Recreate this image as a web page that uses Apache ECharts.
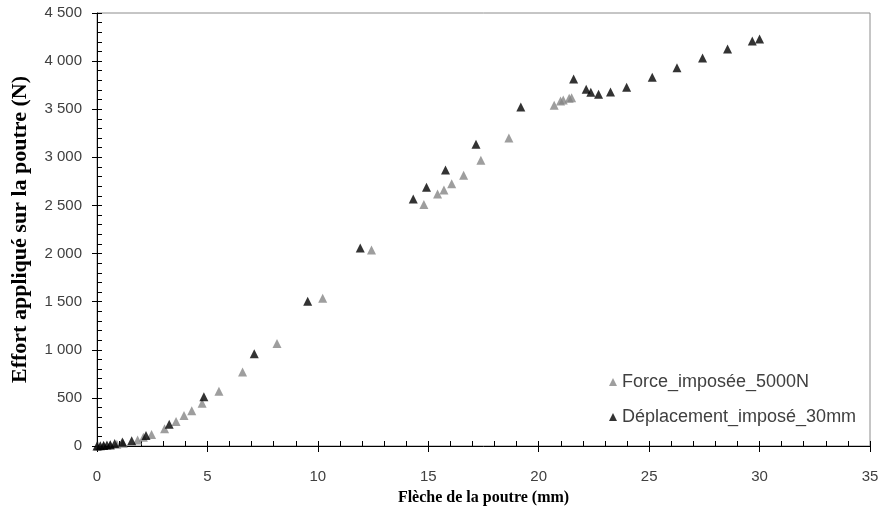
<!DOCTYPE html>
<html>
<head>
<meta charset="utf-8">
<script src="https://cdn.jsdelivr.net/npm/echarts@6/dist/echarts.min.js"></script>
<style>
  html, body { margin: 0; padding: 0; background: #fff; }
  #myChart { width: 882px; height: 513px; }
</style>
</head>
<body>
<div id="myChart"></div>
<script>
// données : [flèche (mm), effort (N)]
const forceImposee = [
  [0.05, 0], [0.3, 4], [0.6, 10], [0.9, 18], [1.19, 28], [1.84, 62],
  [2.10, 90], [2.47, 120], [3.06, 180], [3.58, 255], [3.94, 318],
  [4.29, 367], [4.76, 444], [5.52, 570], [6.59, 770], [8.15, 1065],
  [10.22, 1535], [12.43, 2037], [14.80, 2510], [15.42, 2620],
  [15.71, 2660], [16.06, 2725], [16.6, 2815], [17.38, 2970],
  [18.65, 3200], [20.70, 3540], [20.99, 3585], [21.11, 3597],
  [21.38, 3615], [21.49, 3620]
];
const deplacementImpose = [
  [0, 0], [0.15, 3], [0.3, 6], [0.45, 10], [0.6, 14], [0.8, 25],
  [1.15, 42], [1.57, 55], [2.22, 108], [3.27, 225], [4.84, 512],
  [7.12, 960], [9.54, 1505], [11.92, 2058], [14.32, 2568], [14.92, 2690],
  [15.78, 2868], [17.16, 3135], [19.19, 3522], [21.58, 3815],
  [22.15, 3707], [22.36, 3676], [22.71, 3655], [23.25, 3680],
  [23.98, 3728], [25.14, 3832], [26.26, 3932], [27.42, 4033],
  [28.55, 4127], [29.67, 4210], [30.0, 4231]
];
const seriesNames = ['Force_imposée_5000N', 'Déplacement_imposé_30mm'];
const seriesColors = ['#868686', '#000000'];

const xMax = 35, yMax = 4500;

// séparateur de milliers avec espace
function fmtThousands(v) {
  return String(v).replace(/\B(?=(\d{3})+(?!\d))/g, ' ');
}

let myChart = echarts.init(document.getElementById('myChart'));
myChart.setOption({
  animation: false,
  grid: {
    left: 97, right: 12, top: 13, bottom: 67,
    outerBoundsMode: 'none', containLabel: false,
    show: true, borderColor: '#8c8c8c', borderWidth: 1
  },
  legend: {
    orient: 'vertical',
    left: 604, top: 368,
    itemGap: 17,
    itemWidth: 8, itemHeight: 8,
    icon: 'triangle',
    textStyle: { fontFamily: 'Liberation Sans', fontSize: 18, color: '#404040' },
    data: seriesNames
  },
  xAxis: [
    {
      type: 'value', min: 0, max: xMax, interval: 5,
      name: 'Flèche de la poutre (mm)', nameLocation: 'middle', nameGap: 44,
      nameTextStyle: { fontFamily: 'Liberation Serif', fontWeight: 'bold', fontSize: 16, color: '#000' },
      axisLine: { lineStyle: { color: '#000', width: 1 } },
      axisTick: { inside: false, length: 6, lineStyle: { color: '#000' } },
      axisLabel: { fontFamily: 'Liberation Sans', fontSize: 15, color: '#404040', margin: 23 },
      splitLine: { show: false }
    },
    {
      // petites graduations vers l'intérieur
      type: 'value', min: 0, max: xMax, interval: 1, position: 'bottom',
      axisLine: { show: false },
      axisTick: { inside: true, length: 5, lineStyle: { color: '#000' } },
      axisLabel: { show: false },
      splitLine: { show: false }
    }
  ],
  yAxis: [
    {
      type: 'value', min: 0, max: yMax, interval: 500,
      name: 'Effort appliqué sur la poutre (N)', nameLocation: 'middle', nameGap: 66,
      nameTextStyle: { fontFamily: 'Liberation Serif', fontWeight: 'bold', fontSize: 22, color: '#000' },
      axisLine: { show: true, lineStyle: { color: '#000', width: 1 } },
      axisTick: { show: true, inside: false, length: 5, lineStyle: { color: '#000' } },
      axisLabel: { fontFamily: 'Liberation Sans', fontSize: 15, color: '#404040', margin: 15, formatter: fmtThousands },
      splitLine: { show: false }
    },
    {
      type: 'value', min: 0, max: yMax, interval: 100, position: 'left',
      axisLine: { show: false },
      axisTick: { show: true, inside: true, length: 5, lineStyle: { color: '#000' } },
      axisLabel: { show: false },
      splitLine: { show: false }
    }
  ],
  series: [
    {
      name: seriesNames[0], type: 'scatter', symbol: 'triangle', symbolSize: 9,
      itemStyle: { color: seriesColors[0] },
      data: forceImposee
    },
    {
      name: seriesNames[1], type: 'scatter', symbol: 'triangle', symbolSize: 9,
      itemStyle: { color: seriesColors[1] },
      data: deplacementImpose
    }
  ]
});
</script>
</body>
</html>
